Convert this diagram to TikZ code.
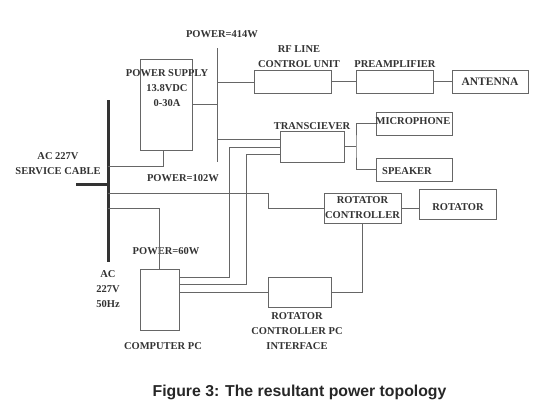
\documentclass[tikz,border=0pt]{standalone}
\usepackage{fontspec}
\setmainfont{Liberation Serif}
\newfontfamily\capfont{Liberation Sans}
\usetikzlibrary{calc}

\definecolor{wire}{HTML}{666666}
\definecolor{ink}{HTML}{333333}

\begin{document}
\begin{tikzpicture}[
    x=1pt, y=-1pt,
    blk/.style={draw=wire, line width=1pt, inner sep=0pt, text=ink},
    lbl/.style={text=ink, align=center, inner sep=0pt,
      font=\fontsize{10.5}{15}\selectfont\bfseries},
    conn/.style={draw=wire, line width=1pt},
    mains/.style={draw=black!80, line width=3pt}
  ]
  \useasboundingbox (0,0) rectangle (550,408);

  % boxes
  \node[blk, minimum width=52pt, minimum height=91pt] (psu) at (166,104.5) {};
  \node[blk, minimum width=77pt, minimum height=23pt] (rfcu) at (292.5,81.5) {};
  \node[blk, minimum width=77pt, minimum height=23pt] (preamp) at (394.5,81.5) {};
  \node[blk, minimum width=76pt, minimum height=23pt,
    font=\fontsize{11.5}{13}\selectfont\bfseries] (antenna) at (490,81.5) {ANTENNA};
  \node[blk, minimum width=64pt, minimum height=31pt] (trx) at (312,146.5) {};
  \node[blk, minimum width=76pt, minimum height=23pt] (mic) at (414,123.5) {};
  \node[blk, minimum width=76pt, minimum height=23pt] (spk) at (414,169.5) {};
  \node[blk, minimum width=77pt, minimum height=30pt] (rotctl) at (362.5,208) {};
  \node[blk, minimum width=77pt, minimum height=30pt] (rot) at (457.5,204) {};
  \node[blk, minimum width=63pt, minimum height=30pt] (iface) at (299.5,292) {};
  \node[blk, minimum width=39pt, minimum height=61pt] (pc) at (159.5,299.5) {};

  % labels
  \node[lbl] (psuTxt) at (167,88.5) {POWER SUPPLY\\13.8VDC\\0-30A};
  \node[lbl] (p414) at (222,34) {POWER=414W};
  \node[lbl] (rfcuTxt) at (299,56.5) {RF LINE\\CONTROL UNIT};
  \node[lbl] (preampTxt) at (395,64) {PREAMPLIFIER};
  \node[lbl] (trxTxt) at (312,126) {TRANSCIEVER};
  \node[lbl] (micTxt) at (413,121) {MICROPHONE};
  \node[lbl] (spkTxt) at (407,171) {SPEAKER};
  \node[lbl] (acTxt) at (58,163.5) {AC 227V\\SERVICE CABLE};
  \node[lbl] (p102) at (183,178) {POWER=102W};
  \node[lbl] (p60) at (166,251) {POWER=60W};
  \node[lbl] (hzTxt) at (108,289.5) {AC\\227V\\50Hz};
  \node[lbl] (pcTxt) at (163,346) {COMPUTER PC};
  \node[lbl] (rotctlTxt) at (362.5,208) {ROTATOR\\CONTROLLER};
  \node[lbl] (rotTxt) at (458,207) {ROTATOR};
  \node[lbl] (ifaceTxt) at (297,331) {ROTATOR\\CONTROLLER PC\\INTERFACE};
  \node[text=black!85, inner sep=0pt, font=\capfont\fontsize{15.8}{18}\selectfont\bfseries]
    (caption) at (299.5,392) {Figure 3: The resultant power topology};

  % dc bus
  \coordinate (busTop) at (217,48);
  \coordinate (busBot) at (217,162);
  \coordinate (tapRf) at (217,82);
  \coordinate (tapTrx) at (217,139);
  \draw[conn] (busTop) -- (busBot);
  \draw[conn] (psu.east) -- (psu.east -| busTop);
  \draw[conn] (tapRf) -- (tapRf -| rfcu.west);
  \draw[conn] (tapTrx) -- (tapTrx -| trx.west);
  \draw[conn] (rfcu.east) -- (preamp.west);
  \draw[conn] (preamp.east) -- (antenna.west);

  % audio
  \coordinate (split) at (356,146.5);
  \draw[conn] (trx.east) -- (split);
  \draw[conn] (mic.west) -| (split) |- (spk.west);

  % mains
  \coordinate (acTop) at (108,100);
  \coordinate (acBot) at (108,262);
  \coordinate (acIn) at (76,184);
  \coordinate (ac1) at (108,166);
  \coordinate (ac2) at (108,193);
  \coordinate (ac3) at (108,208);
  \draw[mains] (acTop) -- (acBot);
  \draw[mains] (acIn) -- (acIn -| acTop);
  \draw[conn] (ac1) -| ([xshift=-3pt]psu.south);
  \draw[conn] (ac2) -| (268,208) -- (rotctl.west);
  \draw[conn] (ac3) -| (pc.north);

  % pc links
  \coordinate (pcA) at (179,277);
  \coordinate (pcB) at (179,284);
  \coordinate (pcC) at (179,292);
  \draw[conn] (pcA) -| (229,147) -- (trx.west |- 0,147);
  \draw[conn] (pcB) -| (246,154) -- (trx.west |- 0,154);
  \draw[conn] (pcC) -- (pcC -| iface.west);
  \draw[conn] (rotctl.south) |- (iface.east);
  \draw[conn] (rotctl.east) -- (rotctl.east -| rot.west);
\end{tikzpicture}
\end{document}
